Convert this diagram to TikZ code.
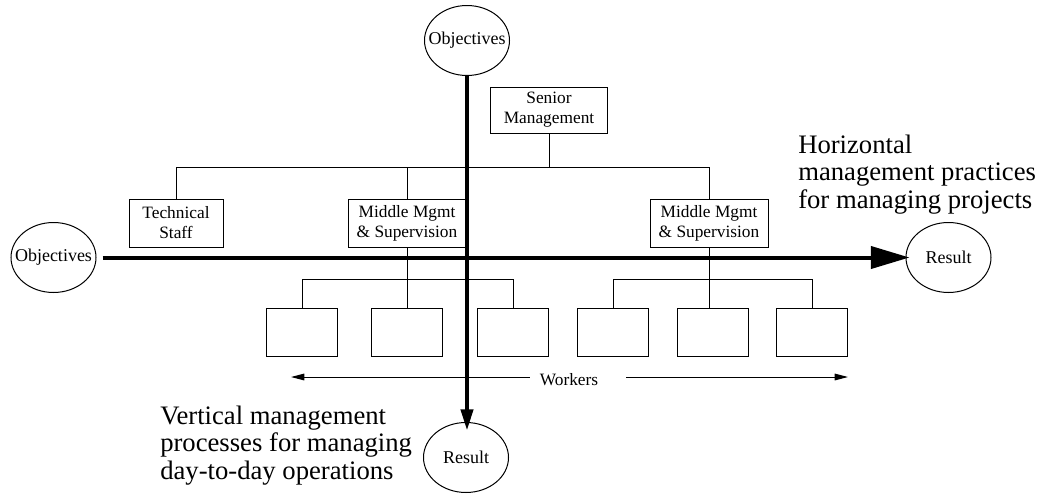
\documentclass[tikz,border=0pt]{standalone}
\usepackage{fontspec}
\setmainfont{Liberation Serif}
\usepackage{tikz}
\usetikzlibrary{arrows.meta,positioning,shapes.geometric,calc}
\newcommand{\goaltext}[1]{\makebox[0pt]{#1}}
\tikzset{
  box/.style={draw, rectangle, line width=0.75pt, align=center, inner sep=0pt, font=\fontsize{13}{15}\selectfont},
  mgr/.style={box, minimum width=88.5pt, minimum height=36pt},
  wkr/.style={box, minimum width=53.25pt, minimum height=36pt},
  goal/.style={draw, ellipse, line width=0.75pt, inner sep=0pt, minimum width=63.75pt, minimum height=52.5pt, font=\fontsize{13.5}{15}\selectfont},
  tree/.style={line width=0.75pt},
  warr/.style={line width=0.75pt, -{Triangle[length=10pt, width=5pt]}},
  harr/.style={line width=3pt, -{Triangle[length=29pt, width=16.5pt]}},
  varr/.style={line width=3pt, -{Triangle[length=16pt, width=9pt]}},
  note/.style={align=left, inner sep=0pt, anchor=base west, font=\fontsize{20}{20.6}\selectfont}
}

\begin{document}
\begin{tikzpicture}[x=0.75pt, y=-0.75pt]
\useasboundingbox (0,0) rectangle (1046,493);
% org chart
\node[box, minimum width=87.75pt, minimum height=34.5pt] (sm) at (549,110) {Senior\\Management};
\node[box, minimum width=70.5pt, minimum height=36pt] (ts) at (176,223) {Technical\\Staff};
\node[mgr] (mml) at (407,223) {Middle Mgmt\\\& Supervision};
\node[mgr] (mmr) at (709,223) {Middle Mgmt\\\& Supervision};
\foreach \n/\x in {w1/302,w2/407,w3/513,w4/613,w5/713,w6/812}
  \node[wkr] (\n) at (\x,332) {};
\coordinate (top) at (549,167);
\draw[tree] (sm) -- (top);
\draw[tree] (ts.north) -- (ts.north |- top) -| (mmr.north);
\draw[tree] (mml.north) -- (mml.north |- top);
\foreach \m/\a/\b/\c in {mml/w1/w2/w3,mmr/w4/w5/w6} {
  \draw[tree] (\m.south) -- (\m.south |- \b.north);
  \draw[tree] (\a.north) -- ++(0,-28) -| (\c.north);
}
% workers
\node[inner sep=0pt, font=\fontsize{13}{15}\selectfont] (wk) at (569,380) {Workers};
\coordinate (wl) at (291,377);
\coordinate (wr) at (848,377);
\draw[warr] ([xshift=-7.5pt]wk.west |- wl) -- (wl);
\draw[warr] ([xshift=21pt]wk.east |- wr) -- (wr);
% objectives and results
\node[goal] (objt) at (467,40.5) {\goaltext{Objectives}};
\node[goal] (resb) at (466,457.5) {\goaltext{Result}};
\node[goal] (objl) at (53.5,257.5) {\goaltext{Objectives}};
\node[goal] (resr) at (948.5,257.5) {\goaltext{Result}};
\draw[harr] ([xshift=4.5pt]objl.east) -- ([xshift=3pt]resr.west);
\draw[varr] (objt.south) -- ([yshift=-6.5pt]objt.south |- resb.north);
% notes
\node[note] (hnote) at (798,208) {Horizontal\\management practices\\for managing projects};
\node[note] (vnote) at (160,479) {Vertical management\\processes for managing\\day-to-day operations};
\end{tikzpicture}
\end{document}
